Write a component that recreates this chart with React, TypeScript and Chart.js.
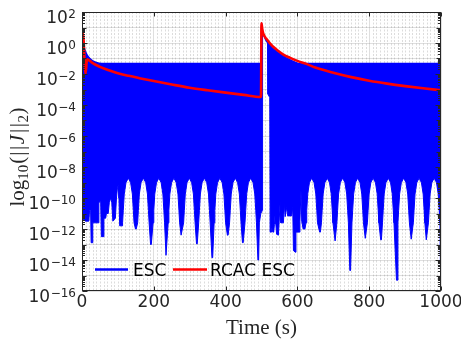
import React, { useEffect, useRef } from 'react';
import { Chart, registerables } from 'chart.js';

Chart.register(...registerables);

// ---------- data (time in s, value of ||J||_2) ----------
const xTickValues = [0, 200, 400, 600, 800, 1000];
const yTickExponents = [2, 0, -2, -4, -6, -8, -10, -12, -14, -16];
const seriesLabels = ['ESC', 'RCAC ESC'];

// RCAC ESC (smooth decaying curve)
const rcacEsc: [number, number][] = [
  [0, 1.5], [2.5, 4.2], [10, 0.011], [14, 0.089], [20, 0.076], [30, 0.05], [50, 0.029],
  [75, 0.0174], [100, 0.0112], [130, 0.0076], [160, 0.0054], [200, 0.0035], [250, 0.0021],
  [300, 0.0013], [350, 8.9e-4], [400, 6.3e-4], [450, 4.5e-4], [498.5, 3.3e-4],
  [500, 19], [502, 8], [505, 4], [510, 2.4], [515, 1.7], [520, 1.2],
  [530, 0.65], [545, 0.33], [561, 0.18], [580, 0.11], [600, 0.07], [625, 0.045],
  [650, 0.026], [700, 0.012], [750, 0.0063], [800, 0.0037], [850, 0.0024], [900, 0.00166],
  [950, 0.0012], [1000, 8.9e-4],
];

// ESC: dense oscillation, drawn as the band between its upper and lower envelopes
const escUpper: [number, number][] = [
  [0, 1.8], [3, 0.9], [8, 0.35], [14, 0.17], [22, 0.1], [30, 0.07], [40, 0.055], [55, 0.048],
  [498.5, 0.048], [500, 19], [503, 5.5], [507, 3], [514, 1.3], [520, 0.9], [530, 0.5],
  [545, 0.25], [561, 0.14], [580, 0.08], [595, 0.055], [603, 0.048], [1000, 0.048],
];

// null = no lower band (the signal stays on its upper envelope just after the jump)
const escLower: [number, number | null][] = [
  [0, 5e-12], [10, 3.2e-12], [19, 3.2e-12], [21, 1.6e-11], [24, 1.6e-11], [25.5, 1.3e-13],
  [28.5, 1.3e-13], [30, 2.5e-12], [45, 2.5e-12], [47, 5e-11], [52, 6.3e-11], [54, 3.2e-13],
  [59, 3.2e-13], [61, 5e-12], [66, 5e-12], [68, 1e-11], [73, 1e-11], [76, 5e-11], [80, 1e-10],
  [83, 5e-11], [86, 3.2e-12], [93, 5e-12], [96, 1e-10], [99, 5e-10], [101, 6.3e-10],
  [103, 1e-10], [105, 1.6e-12], [112, 1.6e-12],
  [113, 2.5e-12], [115, 1.6e-11], [117.7, 1.8e-10], [122.6, 1e-9], [129, 1.9e-9], [135.4, 1e-9], [140.3, 1.8e-10], [143, 1.6e-11], [145, 2.5e-12],
  [149, 1e-12], [151, 1e-12],
  [155, 2.5e-12], [157, 1.6e-11], [159.7, 1.8e-10], [164.6, 1e-9], [171, 1.9e-9], [177.4, 1e-9], [182.3, 1.8e-10], [185, 1.6e-11], [187, 2.5e-12],
  [191, 1e-13], [193, 1e-13],
  [198, 2.5e-12], [200, 1.6e-11], [202.7, 1.8e-10], [207.6, 1e-9], [214, 1.9e-9], [220.4, 1e-9], [225.3, 1.8e-10], [228, 1.6e-11], [230, 2.5e-12],
  [234, 2e-14], [236, 2e-14],
  [240, 2.5e-12], [242, 1.6e-11], [244.7, 1.8e-10], [249.6, 1e-9], [256, 1.9e-9], [262.4, 1e-9], [267.3, 1.8e-10], [270, 1.6e-11], [272, 2.5e-12],
  [276, 4e-13], [278, 4e-13],
  [283, 2.5e-12], [285, 1.6e-11], [287.7, 1.8e-10], [292.6, 1e-9], [299, 1.9e-9], [305.4, 1e-9], [310.3, 1.8e-10], [313, 1.6e-11], [315, 2.5e-12],
  [319, 1.1e-13], [321, 1.1e-13],
  [325, 2.5e-12], [327, 1.6e-11], [329.7, 1.8e-10], [334.6, 1e-9], [341, 1.9e-9], [347.4, 1e-9], [352.3, 1.8e-10], [355, 1.6e-11], [357, 2.5e-12],
  [362, 1.4e-14], [364, 1.4e-14],
  [368, 2.5e-12], [370, 1.6e-11], [372.7, 1.8e-10], [377.6, 1e-9], [384, 1.9e-9], [390.4, 1e-9], [395.3, 1.8e-10], [398, 1.6e-11], [400, 2.5e-12],
  [405, 4e-13], [407, 4e-13],
  [411, 2.5e-12], [413, 1.6e-11], [415.7, 1.8e-10], [420.6, 1e-9], [427, 1.9e-9], [433.4, 1e-9], [438.3, 1.8e-10], [441, 1.6e-11], [443, 2.5e-12],
  [447, 1.3e-13], [449, 1.3e-13],
  [454, 2.5e-12], [456, 1.6e-11], [458.7, 1.8e-10], [463.6, 1e-9], [470, 1.9e-9], [476.4, 1e-9], [481.3, 1.8e-10], [484, 1.6e-11], [486, 2.5e-12],
  [490, 1e-14], [492, 1e-14],
  [494, 2.5e-12], [498, 1e-11], [502.5, 1.6e-11], [503, 5.3], [510, null], [517, 1.0], [518, 5e-4],
  [523, 3e-4], [524, 6.3e-13], [528, 6.3e-13], [530, 2e-12], [532, 6.3e-13], [534, 6.3e-13],
  [536, 2e-12], [538, 1e-11], [540, 2e-12], [542, 4.6e-13], [547, 4e-13], [549, 2.5e-12],
  [552, 6.3e-11], [554, 2.5e-12], [561, 2.5e-12], [564, 4e-11], [566, 6.3e-12], [570, 2.5e-11],
  [573, 7e-12], [584, 7e-12], [587, 2.5e-11], [589, 4e-14], [594, 3.2e-14], [596, 6.3e-13],
  [605, 6.3e-13], [607, 3.2e-12], [610, 3.2e-10], [612, 3.2e-12], [616, 1e-12], [621, 1e-12],
  [624, 2.5e-12], [626, 1.6e-11], [628.7, 1.8e-10], [633.6, 1e-9], [640, 1.9e-9], [646.4, 1e-9], [651.3, 1.8e-10], [654, 1.6e-11], [656, 2.5e-12],
  [662, 6.3e-13], [664, 6.3e-13],
  [667, 2.5e-12], [669, 1.6e-11], [671.7, 1.8e-10], [676.6, 1e-9], [683, 1.9e-9], [689.4, 1e-9], [694.3, 1.8e-10], [697, 1.6e-11], [699, 2.5e-12],
  [705, 1.7e-13], [707, 1.7e-13],
  [710, 2.5e-12], [712, 1.6e-11], [714.7, 1.8e-10], [719.6, 1e-9], [726, 1.9e-9], [732.4, 1e-9], [737.3, 1.8e-10], [740, 1.6e-11], [742, 2.5e-12],
  [746, 2.1e-15], [748, 2.1e-15],
  [752, 2.5e-12], [754, 1.6e-11], [756.7, 1.8e-10], [761.6, 1e-9], [768, 1.9e-9], [774.4, 1e-9], [779.3, 1.8e-10], [782, 1.6e-11], [784, 2.5e-12],
  [789, 2.5e-13], [791, 2.5e-13],
  [795, 2.5e-12], [797, 1.6e-11], [799.7, 1.8e-10], [804.6, 1e-9], [811, 1.9e-9], [817.4, 1e-9], [822.3, 1.8e-10], [825, 1.6e-11], [827, 2.5e-12],
  [832, 2e-13], [834, 2e-13],
  [837, 2.5e-12], [839, 1.6e-11], [841.7, 1.8e-10], [846.6, 1e-9], [853, 1.9e-9], [859.4, 1e-9], [864.3, 1.8e-10], [867, 1.6e-11], [869, 2.5e-12],
  [876, 5e-16], [878, 5e-16],
  [880, 2.5e-12], [882, 1.6e-11], [884.7, 1.8e-10], [889.6, 1e-9], [896, 1.9e-9], [902.4, 1e-9], [907.3, 1.8e-10], [910, 1.6e-11], [912, 2.5e-12],
  [917, 2.2e-13], [919, 2.2e-13],
  [923, 2.5e-12], [925, 1.6e-11], [927.7, 1.8e-10], [932.6, 1e-9], [939, 1.9e-9], [945.4, 1e-9], [950.3, 1.8e-10], [953, 1.6e-11], [955, 2.5e-12],
  [959, 2e-13], [961, 2e-13],
  [965, 2.5e-12], [967, 1.6e-11], [969.7, 1.8e-10], [974.6, 1e-9], [981, 1.9e-9], [987.4, 1e-9], [992.3, 1.8e-10], [995, 1.6e-11], [997, 2.5e-12],
  [999, 3.2e-16], [1000, 3.2e-16],
];

// ---------- styling ----------
const SANS = '"DejaVu Sans", sans-serif';
const SERIF = '"Liberation Serif", serif';
const AXIS_COLOR = '#262626';
const BLUE = '#0000ff';
const RED = '#ff0000';
const MINOR_X_STEP = 10;

const toPoints = (arr: [number, number | null][]) => arr.map(([x, y]) => ({ x, y }));

type Piece = { text: string; font: string; dy?: number; gap?: number };

function drawPieces(ctx: CanvasRenderingContext2D, pieces: Piece[], startX: number, baseY: number) {
  let x = startX;
  for (const p of pieces) {
    ctx.font = p.font;
    ctx.fillText(p.text, x, baseY + (p.dy || 0));
    x += ctx.measureText(p.text).width + (p.gap || 0);
  }
  return x;
}

function measurePieces(ctx: CanvasRenderingContext2D, pieces: Piece[]) {
  let w = 0;
  for (const p of pieces) {
    ctx.font = p.font;
    w += ctx.measureText(p.text).width + (p.gap || 0);
  }
  return w;
}

const decorPlugin = {
  id: 'decor',
  beforeDatasetsDraw(chart: any) {
    const { ctx, chartArea: a, scales } = chart;
    const xs = scales.x;
    ctx.save();
    ctx.beginPath();
    ctx.rect(a.left, a.top, a.right - a.left, a.bottom - a.top);
    ctx.clip();
    ctx.strokeStyle = 'rgba(38,38,38,0.16)';
    ctx.lineWidth = 1;
    ctx.setLineDash([2, 1.5]);
    for (let t = MINOR_X_STEP; t < 1000; t += MINOR_X_STEP) {
      if (xTickValues.includes(t)) continue;
      const px = Math.round(xs.getPixelForValue(t)) + 0.5;
      ctx.beginPath();
      ctx.moveTo(px, a.top);
      ctx.lineTo(px, a.bottom);
      ctx.stroke();
    }
    ctx.restore();
  },
  afterDraw(chart: any) {
    const { ctx, chartArea: a, scales } = chart;
    const xs = scales.x;
    const ys = scales.y;
    const L = Math.round(a.left) + 0.5;
    const R = Math.round(a.right) - 0.5;
    const T = Math.round(a.top) + 0.5;
    const B = Math.round(a.bottom) - 0.5;
    ctx.save();
    ctx.strokeStyle = AXIS_COLOR;
    ctx.fillStyle = AXIS_COLOR;
    ctx.lineWidth = 1;
    ctx.setLineDash([]);
    // box
    ctx.strokeRect(L, T, R - L, B - T);
    // y ticks (decades and subdivisions), both sides
    ctx.beginPath();
    for (let k = -16; k <= 2; k++) {
      const py = Math.round(ys.getPixelForValue(Math.pow(10, k))) + 0.5;
      const len = k % 2 === 0 ? 5 : 4;
      ctx.moveTo(L, py); ctx.lineTo(L + len, py);
      ctx.moveTo(R, py); ctx.lineTo(R - len, py);
      if (k < 2) {
        for (let m = 2; m <= 9; m++) {
          const pm = Math.round(ys.getPixelForValue(m * Math.pow(10, k))) + 0.5;
          ctx.moveTo(L, pm); ctx.lineTo(L + 2.5, pm);
          ctx.moveTo(R, pm); ctx.lineTo(R - 2.5, pm);
        }
      }
    }
    // x ticks
    for (const v of xTickValues) {
      const px = Math.round(xs.getPixelForValue(v)) + 0.5;
      ctx.moveTo(px, B); ctx.lineTo(px, B - 4);
      ctx.moveTo(px, T); ctx.lineTo(px, T + 4);
    }
    ctx.stroke();

    // y tick labels 10^k
    const baseFont = `17px ${SANS}`;
    const expFont = `12px ${SANS}`;
    const rightEdge = 76;
    for (const k of yTickExponents) {
      const py = ys.getPixelForValue(Math.pow(10, k));
      const expText = k < 0 ? '\u2212' + Math.abs(k) : String(k);
      ctx.font = expFont;
      const we = ctx.measureText(expText).width;
      ctx.font = baseFont;
      const wb = ctx.measureText('10').width;
      ctx.textAlign = 'left';
      ctx.textBaseline = 'alphabetic';
      ctx.fillText('10', rightEdge - we - wb - 0.5, py + 10.5);
      ctx.font = expFont;
      ctx.fillText(expText, rightEdge - we, py + 5.5);
    }

    // x tick labels
    ctx.font = baseFont;
    ctx.textAlign = 'center';
    for (const v of xTickValues) {
      ctx.fillText(String(v), xs.getPixelForValue(v), 307);
    }

    // x title
    ctx.font = `21px ${SERIF}`;
    ctx.fillText('Time (s)', (a.left + a.right) / 2, 334);

    // y title  log10(||J||2)
    ctx.textAlign = 'left';
    const big = `21px ${SERIF}`;
    const small = `15px ${SERIF}`;
    const pieces: Piece[] = [
      { text: 'log', font: big },
      { text: '10', font: small, dy: 4.5, gap: 1 },
      { text: '(', font: big, gap: 1 },
      { text: '|', font: big, gap: 1.5 },
      { text: '|', font: big, gap: 1.5 },
      { text: 'J', font: `italic ${big}`, gap: 2 },
      { text: '|', font: big, gap: 1.5 },
      { text: '|', font: big, gap: 0.5 },
      { text: '2', font: small, dy: 4.5, gap: 0.5 },
      { text: ')', font: big },
    ];
    const tw = measurePieces(ctx, pieces);
    ctx.save();
    ctx.translate(23.5, 157 + tw / 2);
    ctx.rotate(-Math.PI / 2);
    drawPieces(ctx, pieces, 0, 0);
    ctx.restore();

    // legend (inside axes, bottom-left)
    const ly = 269.5;
    ctx.lineWidth = 2.5;
    ctx.strokeStyle = BLUE;
    ctx.beginPath(); ctx.moveTo(95, ly); ctx.lineTo(128, ly); ctx.stroke();
    ctx.strokeStyle = RED;
    ctx.beginPath(); ctx.moveTo(173, ly); ctx.lineTo(207, ly); ctx.stroke();
    ctx.fillStyle = '#000000';
    ctx.font = baseFont;
    ctx.textAlign = 'left';
    ctx.fillText(seriesLabels[0], 133, 275.5);
    ctx.fillText(seriesLabels[1], 210, 275.5);
    ctx.restore();
  },
};

export default function App() {
  const canvasRef = useRef<HTMLCanvasElement | null>(null);

  useEffect(() => {
    document.body.style.margin = '0';
    document.body.style.overflow = 'hidden';
    const canvas = canvasRef.current;
    if (!canvas) return;
    const yDecades: number[] = [];
    for (let k = -16; k <= 2; k++) yDecades.push(Math.pow(10, k));

    const chart = new Chart(canvas, {
      type: 'line',
      data: {
        datasets: [
          {
            label: seriesLabels[1],
            data: toPoints(rcacEsc),
            borderColor: RED,
            borderWidth: 2.6,
            pointRadius: 0,
            fill: false,
            cubicInterpolationMode: 'monotone',
          },
          {
            label: seriesLabels[0],
            data: toPoints(escUpper),
            borderColor: BLUE,
            borderWidth: 1.5,
            pointRadius: 0,
            fill: false,
            cubicInterpolationMode: 'monotone',
          },
          {
            label: seriesLabels[0] + ' (lower envelope)',
            data: toPoints(escLower),
            borderColor: BLUE,
            backgroundColor: BLUE,
            borderWidth: 1,
            pointRadius: 0,
            fill: '-1',
            spanGaps: false,
            tension: 0,
          },
        ],
      },
      options: {
        animation: false,
        responsive: false,
        devicePixelRatio: 1,
        layout: { padding: { left: 82, right: 20, top: 12, bottom: 54 } },
        plugins: {
          legend: { display: false },
          tooltip: { enabled: false },
        },
        scales: {
          x: {
            type: 'linear',
            min: 0,
            max: 1000,
            ticks: { display: false, stepSize: 200 },
            grid: { color: 'rgba(38,38,38,0.15)', drawTicks: false },
            border: { display: false },
          },
          y: {
            type: 'logarithmic',
            min: 1e-16,
            max: 100,
            ticks: { display: false },
            afterBuildTicks: (scale: any) => {
              scale.ticks = yDecades.map((v) => ({ value: v }));
            },
            grid: { color: 'rgba(38,38,38,0.15)', drawTicks: false },
            border: { display: false },
          },
        },
      },
      plugins: [decorPlugin],
    } as any);

    return () => chart.destroy();
  }, []);

  return (
    <div style={{ width: 461, height: 345, background: '#ffffff' }}>
      <canvas ref={canvasRef} width={461} height={345} style={{ display: 'block' }} />
    </div>
  );
}
